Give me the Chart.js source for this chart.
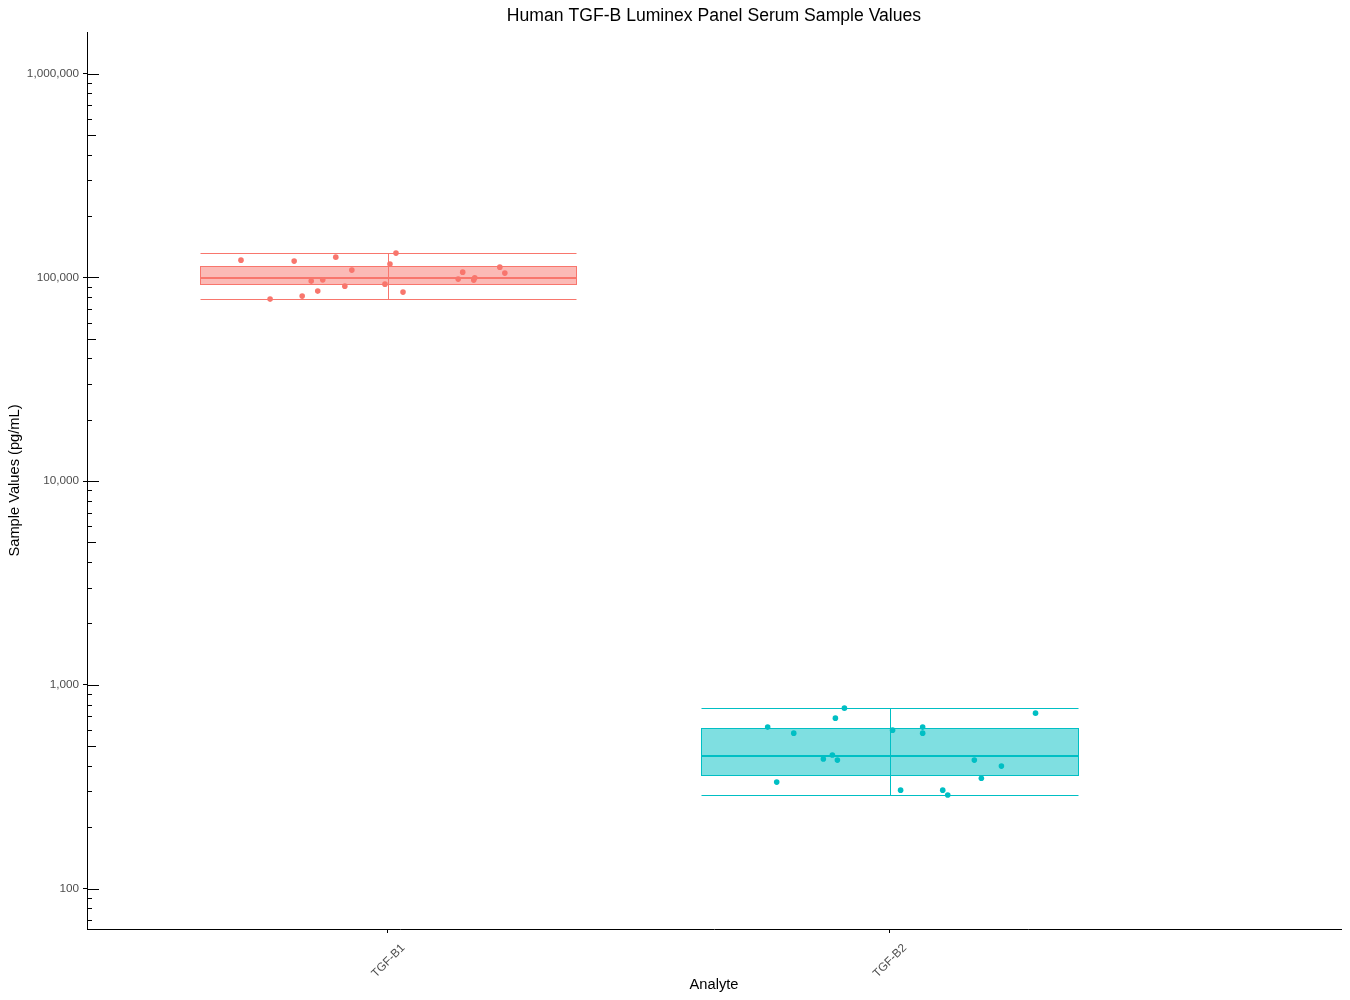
<!DOCTYPE html>
<html>
<head>
<meta charset="utf-8">
<title>Human TGF-B Luminex Panel Serum Sample Values</title>
<script src="https://cdn.jsdelivr.net/npm/chart.js@4.4.1/dist/chart.umd.min.js"></script>
<style>
  html, body { margin: 0; padding: 0; background: #fff; }
  #wrap { width: 1350px; height: 1000px; position: relative; }
</style>
</head>
<body>
<div id="wrap"><canvas id="chart"></canvas></div>
<script>
// ================================
// DATA
// ================================
const analytes = ["TGF-B1", "TGF-B2"];
const seriesColors = ["#F8766D", "#00BFC4"];
const yTickValues = [100, 1000, 10000, 100000, 1000000];

// jittered x position (category 1 / 2 plus jitter) and sample values in pg/mL
const tgfb1X = [0.707, 0.765, 0.813, 0.829, 0.847, 0.860, 0.870, 0.896, 0.914, 0.928,
                0.994, 1.004, 1.016, 1.030, 1.140, 1.149, 1.171, 1.173, 1.223, 1.233];
const tgfb1Values = [121400, 78200, 120100, 80900, 95800, 85600, 97200, 125600, 90500, 108500,
                     92600, 116100, 131500, 84600, 98000, 106000, 96900, 99400, 112200, 104900];

const tgfb2X = [1.757, 1.775, 1.809, 1.868, 1.886, 1.892, 1.896, 1.910, 2.006,
                2.022, 2.066, 2.066, 2.106, 2.116, 2.169, 2.183, 2.223, 2.291];
const tgfb2Values = [620, 333, 579, 432, 452, 686, 427, 768, 599,
                     304, 620, 579, 304, 288, 427, 348, 399, 726];

// box summary per analyte: whisker low, Q1, median, Q3, whisker high
const boxLow = [78200, 288];
const boxQ1 = [92600, 360];
const boxMedian = [99800, 445];
const boxQ3 = [113500, 613];
const boxHigh = [131500, 768];

const FONT = "'Liberation Sans', Arial, Helvetica, sans-serif";

const toRgba = (hex, a) => {
  const n = parseInt(hex.slice(1), 16);
  return `rgba(${(n >> 16) & 255}, ${(n >> 8) & 255}, ${n & 255}, ${a})`;
};

// snap to the pixel grid so 1px lines stay sharp
const crisp = (v) => Math.round(v) + 0.5;

// ================================
// BOXES (drawn under the points)
// ================================
const boxPlugin = {
  id: "boxes",
  beforeDatasetsDraw(chart) {
    const { ctx, scales: { x, y } } = chart;
    analytes.forEach((name, i) => {
      const c = i + 1;
      const left = crisp(x.getPixelForValue(c - 0.375));
      const right = crisp(x.getPixelForValue(c + 0.375));
      const mid = crisp(x.getPixelForValue(c));
      const yLow = crisp(y.getPixelForValue(boxLow[i]));
      const yQ1 = crisp(y.getPixelForValue(boxQ1[i]));
      const yMed = Math.round(y.getPixelForValue(boxMedian[i]));
      const yQ3 = crisp(y.getPixelForValue(boxQ3[i]));
      const yHigh = crisp(y.getPixelForValue(boxHigh[i]));

      ctx.save();
      ctx.strokeStyle = seriesColors[i];
      ctx.lineWidth = 1;
      ctx.beginPath();
      ctx.moveTo(left, yLow); ctx.lineTo(right, yLow);
      ctx.moveTo(left, yHigh); ctx.lineTo(right, yHigh);
      ctx.moveTo(mid, yLow); ctx.lineTo(mid, yHigh);
      ctx.stroke();

      ctx.fillStyle = toRgba(seriesColors[i], 0.5);
      ctx.fillRect(left, yQ3, right - left, yQ1 - yQ3);
      ctx.strokeRect(left, yQ3, right - left, yQ1 - yQ3);

      ctx.lineWidth = 2;
      ctx.beginPath();
      ctx.moveTo(left, yMed); ctx.lineTo(right, yMed);
      ctx.stroke();
      ctx.restore();
    });
  }
};

// ================================
// LOG TICKS + TEXT
// ================================
const decorPlugin = {
  id: "decor",
  afterDraw(chart) {
    const { ctx, chartArea, scales: { x, y } } = chart;
    ctx.save();

    // inner log ticks on the y axis
    ctx.strokeStyle = "#000";
    ctx.lineWidth = 1;
    ctx.beginPath();
    for (let p = 1; p <= 6; p++) {
      for (let k = 1; k <= 9; k++) {
        const v = k * Math.pow(10, p);
        if (v < y.min || v > y.max) continue;
        const len = k === 1 ? 12 : k === 5 ? 9 : 5;
        const py = crisp(y.getPixelForValue(v));
        ctx.moveTo(chartArea.left, py);
        ctx.lineTo(chartArea.left + len, py);
      }
    }
    ctx.stroke();

    const cx = (chartArea.left + chartArea.right) / 2;
    const cy = (chartArea.top + chartArea.bottom) / 2;

    // title
    ctx.fillStyle = "#000";
    ctx.font = `17.6px ${FONT}`;
    ctx.textAlign = "center";
    ctx.textBaseline = "middle";
    ctx.fillText("Human TGF-B Luminex Panel Serum Sample Values", cx, 16);

    // axis titles
    ctx.font = `14.67px ${FONT}`;
    ctx.fillText("Analyte", cx, 985);
    ctx.save();
    ctx.translate(15, cy);
    ctx.rotate(-Math.PI / 2);
    ctx.fillText("Sample Values (pg/mL)", 0, 0);
    ctx.restore();

    // rotated category labels
    ctx.fillStyle = "#4D4D4D";
    ctx.font = `11.73px ${FONT}`;
    ctx.textAlign = "right";
    ctx.textBaseline = "top";
    analytes.forEach((name, i) => {
      const px = x.getPixelForValue(i + 1);
      ctx.save();
      ctx.translate(px + 11, chartArea.bottom + 13);
      ctx.rotate(-Math.PI / 4);
      ctx.fillText(name, 0, 0);
      ctx.restore();
    });

    ctx.restore();
  }
};

// ================================
// CHART
// ================================
const toPoints = (xs, vs) => xs.map((v, i) => ({ x: v, y: vs[i] }));

new Chart(document.getElementById("chart"), {
  type: "scatter",
  data: {
    datasets: [
      {
        label: analytes[0],
        data: toPoints(tgfb1X, tgfb1Values),
        backgroundColor: seriesColors[0],
        borderWidth: 0,
        pointRadius: 2.8,
      },
      {
        label: analytes[1],
        data: toPoints(tgfb2X, tgfb2Values),
        backgroundColor: seriesColors[1],
        borderWidth: 0,
        pointRadius: 2.8,
      },
    ],
  },
  options: {
    responsive: true,
    maintainAspectRatio: false,
    animation: false,
    layout: { padding: { top: 32, right: 9, left: 0, bottom: 0 } },
    plugins: {
      legend: { display: false },
      tooltip: { enabled: false },
      title: { display: false },
    },
    scales: {
      x: {
        type: "linear",
        min: 0.4,
        max: 2.9,
        afterBuildTicks: (scale) => {
          scale.ticks = analytes.map((a, i) => ({ value: i + 1 }));
        },
        afterFit: (scale) => { scale.height = 71; },
        ticks: { display: false },
        grid: { display: true, drawOnChartArea: false, drawTicks: true, tickLength: 4, color: "#000" },
        border: { display: true, color: "#000", width: 1 },
      },
      y: {
        type: "logarithmic",
        min: 63.3,
        max: 1600000,
        afterBuildTicks: (scale) => {
          scale.ticks = yTickValues.map((v) => ({ value: v }));
        },
        afterFit: (scale) => { scale.width = 87; },
        ticks: {
          autoSkip: false,
          color: "#4D4D4D",
          padding: 4,
          font: { family: FONT, size: 11.73 },
          callback: (v) => Number(v).toLocaleString("en-US"),
        },
        grid: { display: true, drawOnChartArea: false, drawTicks: true, tickLength: 4, color: "#000" },
        border: { display: true, color: "#000", width: 1 },
      },
    },
  },
  plugins: [boxPlugin, decorPlugin],
});
</script>
</body>
</html>
